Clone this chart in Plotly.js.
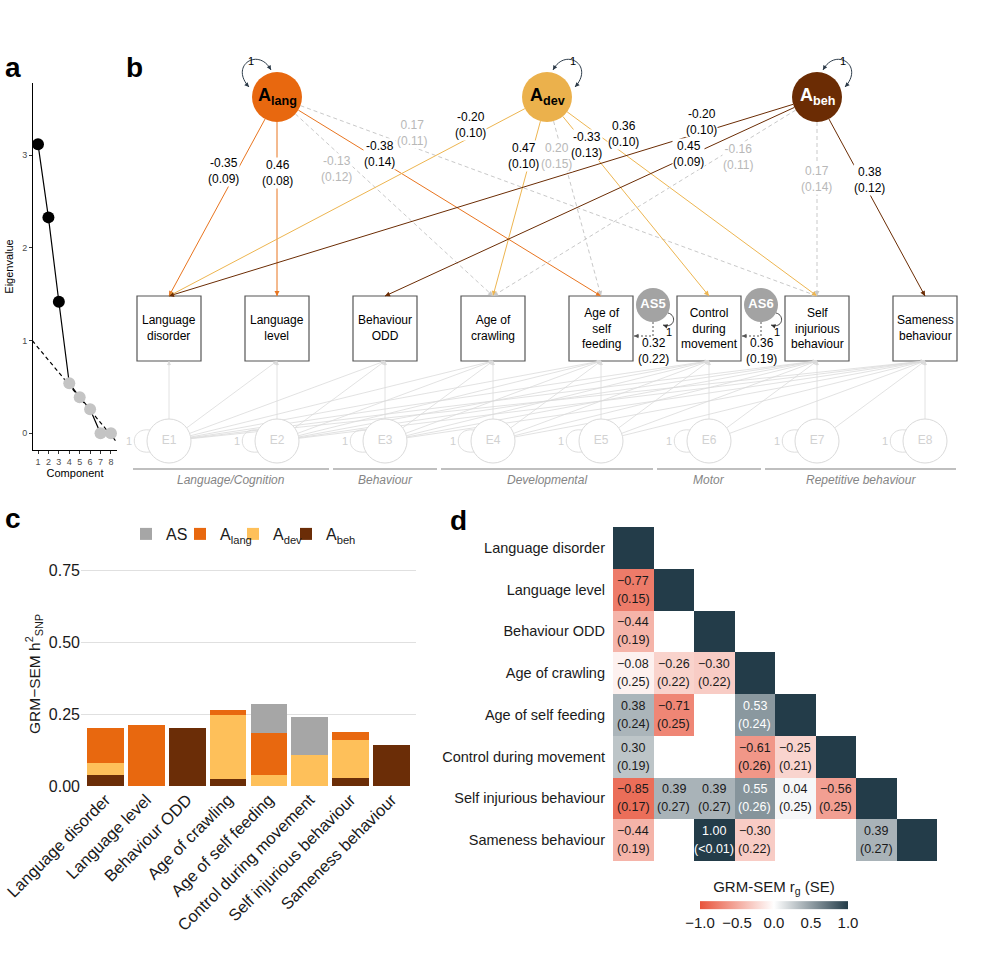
<!DOCTYPE html>
<html><head><meta charset="utf-8">
<script src="https://cdn.plot.ly/plotly-3.0.1.min.js"></script>
<style>body{margin:0;background:#fff}#chart{width:1000px;height:965px}</style>
</head><body><div id="chart"></div><script>
// ================= DATA =================
// Panel a: scree plot
const components = [1, 2, 3, 4, 5, 6, 7, 8];
const eigenvalues = [3.12, 2.33, 1.42, 0.54, 0.39, 0.26, 0.0, 0.0];
const retained = [1, 1, 1, 0, 0, 0, 0, 0];
const refLineX = [0.45, 8.55];
const refLineY = [1.0, -0.094];

// Panel b: path diagram
const obsLabels = ['Language<br>disorder', 'Language<br>level', 'Behaviour<br>ODD', 'Age of<br>crawling',
  'Age of<br>self<br>feeding', 'Control<br>during<br>movement', 'Self<br>injurious<br>behaviour', 'Sameness<br>behaviour'];
const latentLabels = ['A<sub>lang</sub>', 'A<sub>dev</sub>', 'A<sub>beh</sub>'];
const pathFrom = [0, 0, 0, 0, 0, 1, 1, 1, 1, 1, 2, 2, 2, 2, 2];
const pathTo   = [0, 1, 4, 3, 6, 0, 3, 4, 5, 6, 0, 2, 3, 6, 7];
const pathEst  = [-0.35, 0.46, -0.38, -0.13, 0.17, -0.20, 0.47, 0.20, -0.33, 0.36, -0.20, 0.45, -0.16, 0.17, 0.38];
const pathSE   = [0.09, 0.08, 0.14, 0.12, 0.11, 0.10, 0.10, 0.15, 0.13, 0.10, 0.10, 0.09, 0.11, 0.14, 0.12];
const pathSig  = [1, 1, 1, 0, 0, 1, 1, 0, 1, 1, 1, 1, 0, 0, 1];
const asNames = ['AS5', 'AS6'];
const asTo = [4, 5];
const asEst = [0.32, 0.36];
const asSE = [0.22, 0.19];
const groupNames = ['Language/Cognition', 'Behaviour', 'Developmental', 'Motor', 'Repetitive behaviour'];
const groupFirst = [0, 2, 3, 5, 6];
const groupLast  = [1, 2, 4, 5, 7];

// Panel c: stacked h2 contributions
const barCats = ['Language disorder', 'Language level', 'Behaviour ODD', 'Age of crawling',
  'Age of self feeding', 'Control during movement', 'Self injurious behaviour', 'Sameness behaviour'];
const h2Beh  = [0.040, 0.000, 0.203, 0.026, 0.000, 0.000, 0.029, 0.144];
const h2Dev  = [0.040, 0.000, 0.000, 0.221, 0.040, 0.109, 0.130, 0.000];
const h2Lang = [0.123, 0.212, 0.000, 0.017, 0.144, 0.000, 0.029, 0.000];
const h2AS   = [0.000, 0.000, 0.000, 0.000, 0.102, 0.130, 0.000, 0.000];

// Panel d: genetic correlations (lower triangle)
const rgLabels = barCats;
const rgEst = [
  [1],
  [-0.77, 1],
  [-0.44, null, 1],
  [-0.08, -0.26, -0.30, 1],
  [0.38, -0.71, null, 0.53, 1],
  [0.30, null, null, -0.61, -0.25, 1],
  [-0.85, 0.39, 0.39, 0.55, 0.04, -0.56, 1],
  [-0.44, null, 1.00, -0.30, null, null, 0.39, 1]
];
const rgSE = [
  [],
  ['0.15'],
  ['0.19'],
  ['0.25', '0.22', '0.22'],
  ['0.24', '0.25', null, '0.24'],
  ['0.19', null, null, '0.26', '0.21'],
  ['0.17', '0.27', '0.27', '0.26', '0.25', '0.25'],
  ['0.19', null, '<0.01', '0.22', null, null, '0.27']
];

// ================= LAYOUT / STYLE =================
const FONT = 'Liberation Sans, Arial, Helvetica, sans-serif';
const W = 1000, H = 965;
const px = v => v / W, py = v => 1 - v / H;
const traces = [], annotations = [], shapes = [];

// ---------- Panel a ----------
traces.push({x: components, y: eigenvalues, xaxis: 'x', yaxis: 'y', mode: 'lines',
  line: {color: '#000', width: 1.2}, showlegend: false, hoverinfo: 'skip'});
traces.push({x: refLineX, y: refLineY, xaxis: 'x', yaxis: 'y', mode: 'lines',
  line: {color: '#000', width: 1.2, dash: '4px,3px'}, showlegend: false, hoverinfo: 'skip'});
traces.push({x: components, y: eigenvalues, xaxis: 'x', yaxis: 'y', mode: 'markers',
  marker: {size: 12, color: retained.map(r => r ? '#000' : '#c4c4c4')}, showlegend: false, hoverinfo: 'skip'});

// ---------- Panel b (diagram, 1 unit = 1 px) ----------
const COL0 = 169, COLSTEP = 108, BOX_W = 64, BOX_H = 65, BOX_TOP = 296;
const LAT_Y = 97, LAT_R = 25, latCol = [1, 3.5, 6];
const E_Y = 441, E_R = 22;
const AS_Y = 305, AS_R = 17;
const LAT_COLORS = ['#e8680f', '#ebb14c', '#6b2c04'];
const LAT_EDGE = ['#e8741f', '#edb550', '#6b2c04'];
const LAT_TEXT = ['#000', '#000', '#fff'];
const DASH_COL = '#c9c9c9', E_COL = '#dadada', LOOP_COL = '#2b3a48';
// label placement along each path (fraction of vertical run) and horizontal nudge in px
const labelT  = [0.37, 0.38, 0.285, 0.36, 0.18, 0.14, 0.295, 0.295, 0.24, 0.185, 0.125, 0.285, 0.30, 0.41, 0.415];
const labelDX = [-14, 0, 10, -18, 38, -24, -8, -6, 1, 27, -35, -5, 18, -1, 8];
const colX = c => COL0 + c * COLSTEP;

function head(x, y, ux, uy, color, len, w) {
  annotations.push({xref: 'x3', yref: 'y3', axref: 'x3', ayref: 'y3', x: x, y: y,
    ax: x - ux * len, ay: y - uy * len, text: '', showarrow: true, arrowhead: 2,
    arrowsize: 1, arrowwidth: w || 1, arrowcolor: color, standoff: 0, startstandoff: 0});
}
function unit(dx, dy) { const l = Math.hypot(dx, dy); return [dx / l, dy / l]; }

// E (residual) Cholesky paths
const ex = [], ey = [];
for (let i = 0; i < 8; i++) {
  for (let j = i; j < 8; j++) {
    const cx = colX(i), tx = colX(j), ty = BOX_TOP + BOX_H;
    const [ux, uy] = unit(tx - cx, ty - E_Y);
    ex.push(cx + ux * E_R, tx, null); ey.push(E_Y + uy * E_R, ty, null);
    head(tx, ty, ux, uy, E_COL, 6, 0.8);
  }
}
traces.push({x: ex, y: ey, xaxis: 'x3', yaxis: 'y3', mode: 'lines', line: {color: E_COL, width: 0.8},
  showlegend: false, hoverinfo: 'skip'});

// Latent paths
for (let k = 0; k < pathFrom.length; k++) {
  const cx = colX(latCol[pathFrom[k]]), tx = colX(pathTo[k]), ty = BOX_TOP;
  const [ux, uy] = unit(tx - cx, ty - LAT_Y);
  const col = pathSig[k] ? LAT_EDGE[pathFrom[k]] : DASH_COL;
  traces.push({x: [cx + ux * LAT_R, tx], y: [LAT_Y + uy * LAT_R, ty], xaxis: 'x3', yaxis: 'y3', mode: 'lines',
    line: {color: col, width: 1, dash: pathSig[k] ? 'solid' : '4px,3px'}, showlegend: false, hoverinfo: 'skip'});
  head(tx, ty, ux, uy, col, 6, 1);
}
for (let k = 0; k < pathFrom.length; k++) {
  const cx = colX(latCol[pathFrom[k]]), tx = colX(pathTo[k]), ty = BOX_TOP;
  const t = labelT[k];
  annotations.push({xref: 'x3', yref: 'y3', x: cx + t * (tx - cx) + labelDX[k], y: LAT_Y + t * (ty - LAT_Y),
    text: pathEst[k].toFixed(2) + '<br>(' + pathSE[k].toFixed(2) + ')', showarrow: false,
    bgcolor: '#fff', borderpad: 0, font: {size: 12, color: pathSig[k] ? '#000' : '#b8b8b8', family: FONT}});
}

// Observed boxes
for (let i = 0; i < 8; i++) {
  const cx = colX(i);
  shapes.push({type: 'rect', xref: 'x3', yref: 'y3', x0: cx - BOX_W / 2, x1: cx + BOX_W / 2, y0: BOX_TOP, y1: BOX_TOP + BOX_H,
    line: {color: '#555', width: 1.2}, fillcolor: '#fff', layer: 'below'});
  annotations.push({xref: 'x3', yref: 'y3', x: cx, y: BOX_TOP + BOX_H / 2, text: obsLabels[i], showarrow: false,
    font: {size: 12, color: '#000', family: FONT}});
}

// E circles + loops
traces.push({x: obsLabels.map((_, i) => colX(i)), y: obsLabels.map(() => E_Y), xaxis: 'x3', yaxis: 'y3', mode: 'markers+text',
  marker: {size: E_R * 2, color: '#fff', line: {color: E_COL, width: 1}},
  text: obsLabels.map((_, i) => 'E' + (i + 1)), textposition: 'middle center',
  textfont: {size: 12, color: '#d2d2d2', family: FONT}, showlegend: false, hoverinfo: 'skip'});
for (let i = 0; i < 8; i++) {
  const cx = colX(i);
  shapes.push({type: 'path', xref: 'x3', yref: 'y3',
    path: `M ${cx - 19} ${E_Y - 11} C ${cx - 40} ${E_Y - 14} ${cx - 40} ${E_Y + 14} ${cx - 19} ${E_Y + 11}`,
    line: {color: E_COL, width: 0.9}});
  annotations.push({xref: 'x3', yref: 'y3', x: cx - 40, y: E_Y, text: '1', showarrow: false,
    font: {size: 11, color: '#cfcfcf', family: FONT}});
}

// Latent circles, labels, loops
traces.push({x: latCol.map(colX), y: latCol.map(() => LAT_Y), xaxis: 'x3', yaxis: 'y3', mode: 'markers',
  marker: {size: LAT_R * 2, color: LAT_COLORS, line: {width: 0}}, showlegend: false, hoverinfo: 'skip'});
for (let l = 0; l < 3; l++) {
  const cx = colX(latCol[l]), s = l === 0 ? -1 : 1;
  annotations.push({xref: 'x3', yref: 'y3', x: cx, y: LAT_Y, text: '<b>' + latentLabels[l] + '</b>', showarrow: false,
    font: {size: 18, color: LAT_TEXT[l], family: FONT}});
  shapes.push({type: 'path', xref: 'x3', yref: 'y3',
    path: `M ${cx + s * 6} ${LAT_Y - 27} C ${cx + s * 18} ${LAT_Y - 50} ${cx + s * 48} ${LAT_Y - 32} ${cx + s * 28} ${LAT_Y - 10}`,
    line: {color: LOOP_COL, width: 1}});
  head(cx + s * 6, LAT_Y - 27, -s * 0.5, 0.87, LOOP_COL, 4, 0.9);
  head(cx + s * 28, LAT_Y - 10, -s * 0.67, 0.74, LOOP_COL, 4, 0.9);
  annotations.push({xref: 'x3', yref: 'y3', x: cx + s * 26, y: LAT_Y - 36, text: '1', showarrow: false,
    font: {size: 11, color: '#000', family: FONT}});
}

// AS specific factors
for (let a = 0; a < asNames.length; a++) {
  const bx = colX(asTo[a]), ax = bx + COLSTEP / 2 - 2, ly = 336;
  traces.push({x: [ax, ax, bx + BOX_W / 2 + 1], y: [AS_Y + AS_R, ly, ly], xaxis: 'x3', yaxis: 'y3', mode: 'lines',
    line: {color: '#555', width: 1, dash: '2px,2px'}, showlegend: false, hoverinfo: 'skip'});
  head(bx + BOX_W / 2 + 1, ly, -1, 0, '#555', 5, 0.9);
  shapes.push({type: 'path', xref: 'x3', yref: 'y3',
    path: `M ${ax + 15} ${AS_Y + 8} C ${ax + 24} ${AS_Y + 10} ${ax + 22} ${AS_Y + 24} ${ax + 10} ${AS_Y + 20}`,
    line: {color: '#333', width: 0.9}});
  head(ax + 10, AS_Y + 20, -0.95, -0.3, '#333', 4, 0.9);
  annotations.push({xref: 'x3', yref: 'y3', x: ax + 16, y: AS_Y + 27, text: '1', showarrow: false,
    font: {size: 11, color: '#000', family: FONT}});
  annotations.push({xref: 'x3', yref: 'y3', x: ax, y: 351, text: asEst[a].toFixed(2) + '<br>(' + asSE[a].toFixed(2) + ')',
    showarrow: false, font: {size: 12, color: '#000', family: FONT}});
}
traces.push({x: asTo.map(b => colX(b) + COLSTEP / 2 - 2), y: asTo.map(() => AS_Y), xaxis: 'x3', yaxis: 'y3', mode: 'markers+text',
  marker: {size: AS_R * 2, color: '#a3a3a3'}, text: asNames.map(n => '<b>' + n + '</b>'), textposition: 'middle center',
  textfont: {size: 13, color: '#fff', family: FONT}, showlegend: false, hoverinfo: 'skip'});

// Group lines and labels
for (let g = 0; g < groupNames.length; g++) {
  const x0 = Math.max(colX(groupFirst[g]) - 52, 133), x1 = Math.min(colX(groupLast[g]) + 52, 956);
  shapes.push({type: 'line', xref: 'x3', yref: 'y3', x0: x0, x1: x1, y0: 469, y1: 469, line: {color: '#aaa', width: 1.5}});
  annotations.push({xref: 'x3', yref: 'y3', x: (x0 + x1) / 2, y: 480, text: '<i>' + groupNames[g] + '</i>', showarrow: false,
    font: {size: 12, color: '#858585', family: FONT}});
}

// ---------- Panel c ----------
const barIdx = barCats.map((_, i) => i);
const barSeries = [
  {name: 'A<sub>beh</sub>', y: h2Beh, color: '#6b2d07', legend: 'legend4'},
  {name: 'A<sub>dev</sub>', y: h2Dev, color: '#fec05a', legend: 'legend3'},
  {name: 'A<sub>lang</sub>', y: h2Lang, color: '#e8680f', legend: 'legend2'},
  {name: 'AS', y: h2AS, color: '#a6a6a6', legend: 'legend'}
];
barSeries.forEach(s => traces.push({type: 'bar', x: barIdx, y: s.y, name: s.name, xaxis: 'x2', yaxis: 'y2', legend: s.legend,
  width: 0.9, marker: {color: s.color, line: {width: 0}}, hoverinfo: 'skip'}));

// ---------- Panel d ----------
const zMat = rgLabels.map((_, i) => rgLabels.map((_, j) => (j <= i && rgEst[i][j] !== undefined) ? rgEst[i][j] : null));
traces.push({type: 'heatmap', z: zMat, x: barIdx, y: barIdx, xaxis: 'x4', yaxis: 'y4', zmin: -1, zmax: 1,
  colorscale: [[0, '#e8543c'], [0.5, '#ffffff'], [1, '#233c49']], hoverinfo: 'skip', showscale: true,
  colorbar: {orientation: 'h', x: px(774), xanchor: 'center', y: py(872), yanchor: 'top', len: 168, lenmode: 'pixels',
    thickness: 8, outlinewidth: 0, tickvals: [-1, -0.5, 0, 0.5, 1], tickformat: '.1f', ticks: '',
    tickfont: {size: 15, color: '#1a1a1a', family: FONT},
    title: {text: 'GRM-SEM r<sub>g</sub> (SE)', side: 'top', font: {size: 15, color: '#1a1a1a', family: FONT}}}});
for (let i = 0; i < 8; i++) {
  for (let j = 0; j < i; j++) {
    const v = rgEst[i][j];
    if (v === null || v === undefined) continue;
    const col = v > 0.45 ? '#fff' : '#1a1a1a';
    const vs = (v < 0 ? '\u2212' : '') + Math.abs(v).toFixed(2);
    annotations.push({xref: 'x4', yref: 'y4', x: j, y: i, yshift: 9, text: vs, showarrow: false,
      font: {size: 12.5, color: col, family: FONT}});
    annotations.push({xref: 'x4', yref: 'y4', x: j, y: i, yshift: -9, text: '(' + rgSE[i][j] + ')', showarrow: false,
      font: {size: 12.5, color: col, family: FONT}});
  }
}

// Panel letters
[['a', 3, 67], ['b', 124, 67], ['c', 3, 518], ['d', 448, 520]].forEach(([t, x, y]) =>
  annotations.push({xref: 'paper', yref: 'paper', x: px(x), y: py(y), xanchor: 'left', yanchor: 'middle', text: '<b>' + t + '</b>',
    showarrow: false, font: {size: 28, color: '#000', family: FONT}}));

const legendBase = x => ({orientation: 'h', x: px(x), xanchor: 'left', y: py(534), yanchor: 'middle',
  font: {size: 16, color: '#1a1a1a', family: FONT}, itemwidth: 30, bgcolor: 'rgba(0,0,0,0)'});

const layout = {
  width: W, height: H, margin: {l: 0, r: 0, t: 0, b: 0}, paper_bgcolor: '#fff', plot_bgcolor: 'rgba(0,0,0,0)',
  font: {family: FONT, color: '#000'}, barmode: 'stack', showlegend: true,
  legend: legendBase(126), legend2: legendBase(180), legend3: legendBase(233), legend4: legendBase(286),
  xaxis: {domain: [px(33), px(117)], range: [0.52, 8.58], anchor: 'y', showline: true, linecolor: '#000', linewidth: 1,
    ticks: 'outside', ticklen: 3, tickcolor: '#333', tickvals: components, tickfont: {size: 9, color: '#4d4d4d'},
    showgrid: false, zeroline: false, title: {text: 'Component', font: {size: 11}, standoff: 2}},
  yaxis: {domain: [py(450), py(83)], range: [-0.18, 3.78], anchor: 'x', showline: true, linecolor: '#000', linewidth: 1,
    ticks: 'outside', ticklen: 3, tickcolor: '#333', tickvals: [0, 1, 2, 3], tickfont: {size: 9, color: '#4d4d4d'},
    showgrid: false, zeroline: false, title: {text: 'Eigenvalue', font: {size: 11}, standoff: 6}},
  xaxis2: {domain: [px(81), px(416)], range: [-0.6, 7.6], anchor: 'y2', tickvals: barIdx, ticktext: barCats,
    tickangle: -45, tickfont: {size: 16.5, color: '#1a1a1a'}, showgrid: false, zeroline: false, showline: false, ticks: ''},
  yaxis2: {domain: [py(786), py(562)], range: [0, 0.78], anchor: 'x2', tickvals: [0, 0.25, 0.5, 0.75], tickformat: '.2f',
    tickfont: {size: 16, color: '#1a1a1a'}, showgrid: true, gridcolor: '#e0e0e0', gridwidth: 1, zeroline: false, ticks: '',
    title: {text: 'GRM\u2212SEM h<sup>2</sup><sub>SNP</sub>', font: {size: 15.5, color: '#1a1a1a'}, standoff: 4}},
  xaxis3: {domain: [px(120), px(970)], range: [120, 970], anchor: 'y3', visible: false, fixedrange: true},
  yaxis3: {domain: [py(495), py(50)], range: [495, 50], anchor: 'x3', visible: false, fixedrange: true},
  xaxis4: {domain: [px(613), px(937)], range: [-0.5, 7.5], anchor: 'y4', visible: false},
  yaxis4: {domain: [py(861), py(527)], range: [7.5, -0.5], anchor: 'x4', tickvals: barIdx, ticktext: rgLabels,
    tickfont: {size: 14.5, color: '#1a1a1a'}, showgrid: false, zeroline: false, showline: false, ticks: '', ticklabelstandoff: 7},
  annotations: annotations, shapes: shapes
};
Plotly.newPlot('chart', traces, layout, {staticPlot: true, displayModeBar: false});
</script></body></html>
